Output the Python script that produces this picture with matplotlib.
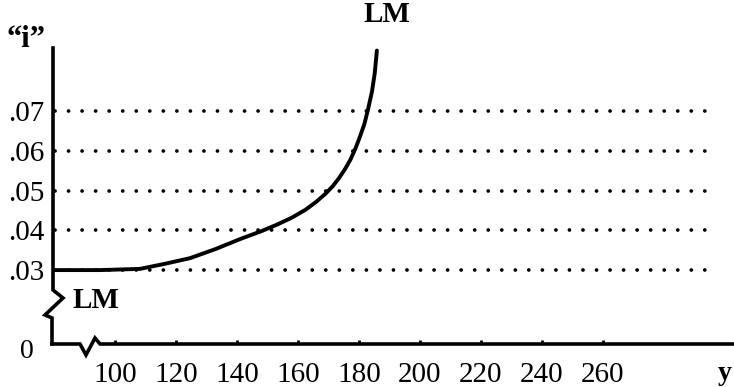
import matplotlib.pyplot as plt
import numpy as np

plt.rcParams['font.family'] = ['Liberation Serif', 'DejaVu Serif']

# LM curve (income y, interest rate i)
lm_y = [79.7, 95.1, 108.2, 116.5, 124.6, 133.0, 141.0, 148.0, 153.0, 158.0,
        162.5, 166.0, 169.0, 171.5, 173.5, 175.5, 177.2, 178.8, 180.3, 181.8,
        183.0, 184.3, 185.2, 185.9]
lm_i = [0.0300, 0.0300, 0.0303, 0.0316, 0.0330, 0.0353, 0.0378, 0.0398, 0.0414, 0.0432,
        0.0452, 0.0472, 0.0492, 0.0512, 0.0532, 0.0555, 0.0578, 0.0605, 0.0635, 0.0668,
        0.0705, 0.0750, 0.0796, 0.0853]

rate_levels = [0.03, 0.04, 0.05, 0.06, 0.07]
rate_labels = ['.03', '.04', '.05', '.06', '.07']
income_ticks = [100, 120, 140, 160, 180, 200, 220, 240, 260]
income_labels = ['100', '120', '140', '160', '180', '200', '220', '240', '260']

fig = plt.figure(figsize=[7.34, 3.87], dpi=100)
ax = fig.add_axes([53 / 734, 43 / 387, 681 / 734, 297 / 387])
ax.set_xlim(79.7, 303)
ax.set_ylim(0.01138, 0.0862)

for s in ax.spines.values():
    s.set_visible(False)

# dotted guide lines
for r in rate_levels:
    ax.plot([80.5, 295.7], [r, r], color='black', linewidth=2.7,
            linestyle=(0, (0.01, 3.6)), dash_capstyle='round')

ax.plot(lm_y, lm_i, color='black', linewidth=2.8, solid_capstyle='round',
        solid_joinstyle='round')

# axes with break marks (axes fraction coordinates)
W, H = 681.0, 297.0
vx = [0, 0, 10, -8, -1, -1]
vy = [296, 54, 46, 29, 26, 0]
ax.plot([v / W for v in vx], [v / H for v in vy], color='black', linewidth=2.6,
        transform=ax.transAxes, clip_on=False, solid_joinstyle='miter')
hx = [-1, 27, 33, 42, 47, 681]
hy = [0, 0, -11, 6, 0, 0]
ax.plot([v / W for v in hx], [v / H for v in hy], color='black', linewidth=2.6,
        transform=ax.transAxes, clip_on=False, solid_joinstyle='miter')

ax.set_yticks(rate_levels)
ax.set_yticklabels(rate_labels)
ax.set_xticks(income_ticks)
ax.set_xticklabels(income_labels)
ax.tick_params(axis='y', length=0, pad=6, labelsize=21)
ax.tick_params(axis='x', direction='in', length=3, width=2, pad=13, labelsize=21)

ax.text(-26 / W, -8 / H, '0', transform=ax.transAxes, fontsize=20,
        ha='center', va='center')
ax.text(-27 / W, 304 / H, '\u201ci\u201d', transform=ax.transAxes, fontsize=22,
        fontweight='bold', ha='center', va='center')
ax.text(334 / W, 329 / H, 'LM', transform=ax.transAxes, fontsize=21,
        fontweight='bold', ha='center', va='center')
ax.text(43 / W, 43 / H, 'LM', transform=ax.transAxes, fontsize=21,
        fontweight='bold', ha='center', va='center')
ax.text(672 / W, -29 / H, 'y', transform=ax.transAxes, fontsize=20,
        fontweight='bold', ha='center', va='center')

plt.savefig('out.png', dpi=100)
plt.close()
